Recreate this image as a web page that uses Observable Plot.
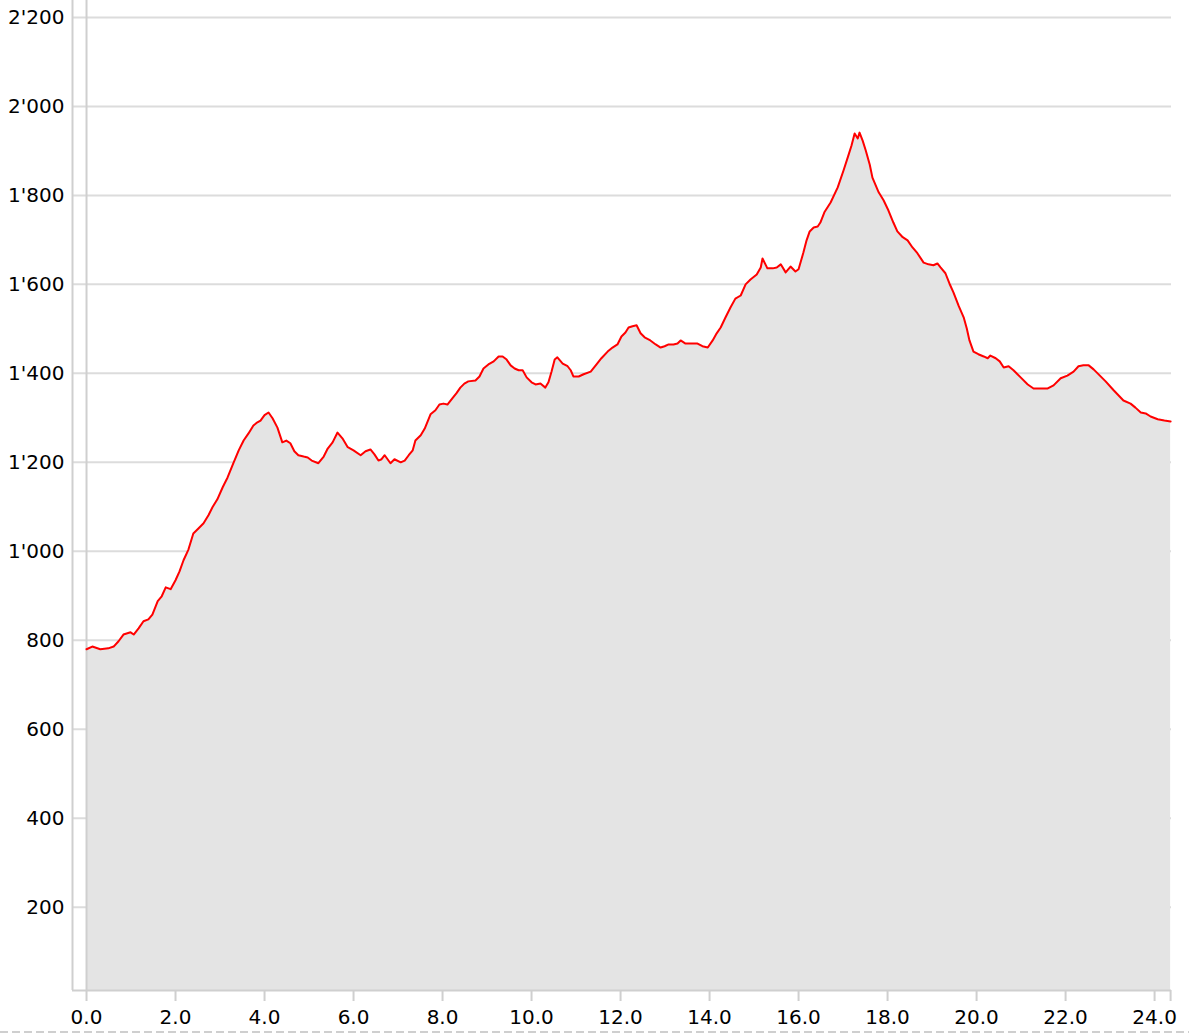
<!DOCTYPE html>
<html>
<head>
<meta charset="utf-8">
<script src="https://cdn.jsdelivr.net/npm/d3@7"></script>
<script src="https://cdn.jsdelivr.net/npm/@observablehq/plot@0.6"></script>
<style>
  html, body { margin: 0; padding: 0; background: #fff; }
  #chart svg { display: block; }
  #dash { width: 1189px; height: 2px; background: repeating-linear-gradient(to right, #cfcfcf 0 8px, transparent 8px 12px); }
</style>
</head>
<body>
<div id="chart"></div>
<div id="dash"></div>
<script>
// distance (km)
const distanceKm = [
  0.00,0.13,0.31,0.49,0.61,0.72,0.83,0.99,1.06,1.17,1.28,1.39,1.48,1.60,1.69,1.78,1.89,2.00,2.09,2.18,
  2.29,2.40,2.52,2.63,2.74,2.83,2.94,3.06,3.17,3.30,3.42,3.53,3.64,3.75,3.84,3.91,4.00,4.09,4.18,4.29,
  4.40,4.49,4.58,4.67,4.76,4.88,4.97,5.06,5.21,5.33,5.42,5.53,5.64,5.75,5.87,6.00,6.16,6.27,6.38,6.47,
  6.56,6.63,6.70,6.83,6.92,7.06,7.15,7.24,7.33,7.39,7.51,7.60,7.73,7.84,7.93,8.02,8.11,8.22,8.31,8.40,
  8.49,8.58,8.74,8.83,8.92,9.03,9.15,9.26,9.35,9.44,9.53,9.62,9.71,9.80,9.89,10.00,10.09,10.20,10.31,10.38,
  10.45,10.52,10.58,10.70,10.81,10.88,10.94,11.06,11.17,11.33,11.46,11.57,11.71,11.82,11.93,12.02,12.11,12.18,12.27,12.36,
  12.45,12.54,12.67,12.79,12.90,12.99,13.08,13.19,13.28,13.35,13.46,13.57,13.73,13.84,13.96,14.07,14.16,14.25,14.36,14.47,
  14.58,14.70,14.81,14.92,15.06,15.15,15.19,15.30,15.42,15.51,15.60,15.71,15.82,15.93,16.00,16.11,16.18,16.25,16.34,16.43,
  16.49,16.58,16.72,16.88,17.01,17.12,17.19,17.26,17.33,17.37,17.44,17.51,17.60,17.66,17.80,17.91,18.02,18.13,18.22,18.34,
  18.45,18.56,18.67,18.81,18.92,19.03,19.12,19.19,19.30,19.39,19.48,19.60,19.71,19.78,19.84,19.93,20.04,20.16,20.25,20.31,
  20.43,20.52,20.61,20.72,20.83,20.99,21.15,21.28,21.44,21.60,21.73,21.89,22.04,22.18,22.29,22.40,22.52,22.63,22.72,22.90,
  23.08,23.30,23.46,23.57,23.69,23.80,23.91,24.07,24.22,24.36
];
// elevation (m)
const elevationM = [
  780,786,780,782,786,798,813,818,813,827,843,847,858,888,899,919,915,935,955,980,
  1004,1040,1052,1063,1081,1099,1117,1144,1166,1198,1227,1249,1265,1283,1290,1294,1306,1312,1299,1278,
  1245,1249,1243,1225,1216,1213,1211,1204,1198,1213,1231,1245,1267,1254,1234,1227,1216,1225,1229,1218,
  1204,1207,1216,1198,1207,1200,1204,1216,1227,1249,1261,1276,1308,1317,1330,1332,1330,1344,1355,1368,
  1377,1382,1384,1393,1411,1420,1427,1438,1438,1431,1418,1411,1407,1407,1391,1380,1375,1377,1368,1380,
  1404,1431,1436,1422,1416,1407,1393,1393,1398,1404,1420,1434,1449,1458,1465,1483,1492,1503,1506,1508,
  1490,1481,1474,1465,1458,1461,1465,1465,1467,1474,1467,1467,1467,1461,1458,1474,1490,1503,1526,1548,
  1568,1575,1600,1611,1622,1638,1658,1636,1636,1638,1645,1627,1640,1629,1634,1672,1699,1719,1728,1730,
  1739,1762,1784,1818,1856,1890,1912,1939,1928,1941,1923,1901,1869,1840,1807,1789,1766,1739,1719,1706,
  1699,1683,1670,1649,1645,1643,1647,1638,1625,1602,1582,1551,1526,1501,1474,1449,1443,1438,1434,1440,
  1434,1427,1413,1416,1407,1391,1375,1366,1366,1366,1373,1389,1395,1404,1416,1418,1418,1409,1400,1382,
  1362,1339,1332,1323,1312,1310,1303,1297,1294,1292
];
const xTicks = [0, 2, 4, 6, 8, 10, 12, 14, 16, 18, 20, 22, 24];
const yTicks = [200, 400, 600, 800, 1000, 1200, 1400, 1600, 1800, 2000, 2200];

const xDomain = [-0.315, 24.38];
const yDomain = [13, 2238];

const profile = distanceKm.map((d, i) => ({ km: d, ele: elevationM[i] }));
const swiss = d3.formatLocale({ decimal: ".", thousands: "'", grouping: [3], currency: ["", ""] }).format(",");
const xFmt = d3.format(".1f");
const xTickAll = [...xTicks, xDomain[1] - 0.02];

const chart = Plot.plot({
  width: 1189,
  height: 1031,
  marginLeft: 72,
  marginRight: 18,
  marginTop: 0,
  marginBottom: 41,
  style: { fontFamily: "DejaVu Sans", fontSize: "20px", color: "#000", background: "#fff" },
  x: { domain: xDomain, label: null },
  y: { domain: yDomain, label: null },
  marks: [
    Plot.gridY(yTicks, { stroke: "#dcdcdc", strokeOpacity: 1, strokeWidth: 2 }),
    Plot.areaY(profile, { x: "km", y1: () => yDomain[0], y2: "ele", fill: "#e4e4e4" }),
    Plot.ruleX([0], { stroke: "#cfcfcf", strokeWidth: 2 }),
    Plot.lineY(profile, { x: "km", y: "ele", stroke: "#ff0000", strokeWidth: 2 }),
    Plot.ruleX([xDomain[0]], { stroke: "#cfcfcf", strokeWidth: 2 }),
    Plot.ruleY([yDomain[0]], { stroke: "#cfcfcf", strokeWidth: 2 }),
    Plot.axisX(xTickAll, { tickFormat: (d) => (xTicks.includes(d) ? xFmt(d) : ""), tickSize: 11, tickPadding: 8, stroke: "#cfcfcf", strokeWidth: 2, fill: "#000", fontSize: 20, label: null }),
    Plot.axisY(yTicks, { tickFormat: swiss, tickSize: 0, tickPadding: 8, fill: "#000", fontSize: 20, label: null })
  ]
});
document.getElementById("chart").append(chart);
</script>
</body>
</html>
